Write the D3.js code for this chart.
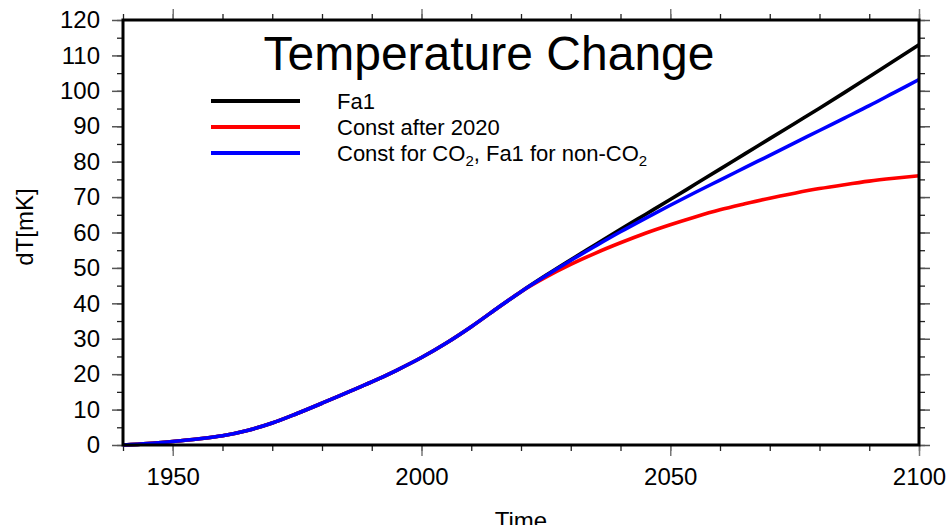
<!DOCTYPE html>
<html>
<head>
<meta charset="utf-8">
<script src="https://cdn.jsdelivr.net/npm/d3@7"></script>
<style>
  html, body { margin: 0; padding: 0; background: #fff; }
  svg { display: block; font-family: "Liberation Sans", Arial, sans-serif; }
</style>
</head>
<body>
<svg id="chart" width="951" height="525"></svg>
<script>
// Years sampled every 5 years
const years = d3.range(1940, 2101, 5);

// Temperature change in mK for each scenario
const fa1 = [0, 0.4, 1.0, 1.7, 2.6, 4.1, 6.2, 8.9, 11.8, 14.8, 17.8, 21.1, 24.7, 28.8, 33.4, 38.4, 43.3, 47.9,
             52.3, 56.6, 60.9, 65.1, 69.3, 73.6, 77.9, 82.2, 86.5, 90.8, 95.1, 99.5, 104.0, 108.5, 113.0];
const constAfter2020 = [0, 0.4, 1.0, 1.7, 2.6, 4.1, 6.2, 8.9, 11.8, 14.8, 17.8, 21.1, 24.7, 28.8, 33.4, 38.4, 43.3, 47.4,
             51.0, 54.2, 57.1, 59.8, 62.2, 64.4, 66.4, 68.1, 69.7, 71.1, 72.4, 73.5, 74.5, 75.3, 76.0];
const constCO2 = [0, 0.4, 1.0, 1.7, 2.6, 4.1, 6.2, 8.9, 11.8, 14.8, 17.8, 21.1, 24.7, 28.8, 33.4, 38.4, 43.3, 47.8,
             52.1, 56.2, 60.2, 64.0, 67.7, 71.3, 74.8, 78.3, 81.8, 85.3, 88.8, 92.3, 95.8, 99.5, 103.2];

const yTicksMajor = d3.range(0, 121, 10);
const yTicksMinor = d3.range(0, 121, 5);
const xTicksMajor = [1950, 2000, 2050, 2100];
const xTicksMinor = d3.range(1940, 2101, 10);

const svg = d3.select("#chart");
const plotLeft = 123, plotRight = 919, plotTop = 20, plotBottom = 445;

const x = d3.scaleLinear().domain([1940, 2100]).range([plotLeft, plotRight]);
const y = d3.scaleLinear().domain([0, 120]).range([plotBottom, plotTop]);

function styleAxis(g, color, width) {
  g.select(".domain").remove();
  g.selectAll(".tick line").attr("stroke", color).attr("stroke-width", width);
  g.selectAll(".tick text").attr("fill", "#000").style("font-size", "24px")
    .style("font-family", '"Liberation Sans", Arial, sans-serif');
}

// Minor ticks on all four sides
svg.append("g").attr("transform", `translate(${plotLeft},0)`)
  .call(d3.axisLeft(y).tickValues(yTicksMinor).tickSize(6).tickFormat(""))
  .call(g => styleAxis(g, "#222", 1.3));
svg.append("g").attr("transform", `translate(${plotRight},0)`)
  .call(d3.axisRight(y).tickValues(yTicksMinor).tickSize(6).tickFormat(""))
  .call(g => styleAxis(g, "#222", 1.3));
svg.append("g").attr("transform", `translate(0,${plotBottom})`)
  .call(d3.axisBottom(x).tickValues(xTicksMinor).tickSize(6).tickFormat(""))
  .call(g => styleAxis(g, "#222", 1.3));
svg.append("g").attr("transform", `translate(0,${plotTop})`)
  .call(d3.axisTop(x).tickValues(xTicksMinor).tickSize(6).tickFormat(""))
  .call(g => styleAxis(g, "#222", 1.3));

// Major ticks with labels
svg.append("g").attr("transform", `translate(${plotLeft},0)`)
  .call(d3.axisLeft(y).tickValues(yTicksMajor).tickSize(11).tickPadding(12).tickFormat(d3.format("d")))
  .call(g => styleAxis(g, "#555", 1.5));
svg.append("g").attr("transform", `translate(${plotRight},0)`)
  .call(d3.axisRight(y).tickValues(yTicksMajor).tickSize(11).tickFormat(""))
  .call(g => styleAxis(g, "#555", 1.5));
svg.append("g").attr("transform", `translate(0,${plotBottom})`)
  .call(d3.axisBottom(x).tickValues(xTicksMajor).tickSize(11).tickPadding(12).tickFormat(d3.format("d")))
  .call(g => styleAxis(g, "#777", 1.5));
svg.append("g").attr("transform", `translate(0,${plotTop})`)
  .call(d3.axisTop(x).tickValues(xTicksMajor).tickSize(11).tickFormat(""))
  .call(g => styleAxis(g, "#777", 1.5));

// Series lines
const line = d3.line().x((d, i) => x(years[i])).y(d => y(d)).curve(d3.curveMonotoneX);
const series = [
  { values: fa1, color: "#000000" },
  { values: constAfter2020, color: "#ff0000" },
  { values: constCO2, color: "#0000ff" }
];
svg.append("g").selectAll("path").data(series).join("path")
  .attr("d", d => line(d.values))
  .attr("fill", "none")
  .attr("stroke", d => d.color)
  .attr("stroke-width", 3.6)
  .attr("stroke-linejoin", "round");

// Plot frame
svg.append("rect")
  .attr("x", plotLeft).attr("y", plotTop)
  .attr("width", plotRight - plotLeft).attr("height", plotBottom - plotTop)
  .attr("fill", "none").attr("stroke", "#000").attr("stroke-width", 3);

// Title
svg.append("text")
  .attr("x", 489).attr("y", 70)
  .attr("text-anchor", "middle")
  .style("font-size", "48px")
  .text("Temperature Change");

// Legend
const legend = [
  { color: "#000000", parts: [["Fa1", false]] },
  { color: "#ff0000", parts: [["Const after 2020", false]] },
  { color: "#0000ff", parts: [["Const for CO", false], ["2", true], [", Fa1 for non-CO", false], ["2", true]] }
];
const lg = svg.append("g");
legend.forEach((item, i) => {
  const cy = 101 + i * 26;
  lg.append("line")
    .attr("x1", 211).attr("x2", 300).attr("y1", cy).attr("y2", cy)
    .attr("stroke", item.color).attr("stroke-width", 4);
  const t = lg.append("text").attr("x", 337).attr("y", cy + 7.5).style("font-size", "22px");
  item.parts.forEach(([s, sub]) => {
    if (sub) {
      t.append("tspan").attr("dy", 5).style("font-size", "15px").text(s);
    } else {
      const ts = t.append("tspan").text(s);
      if (t.selectAll("tspan").size() > 1) ts.attr("dy", -5);
    }
  });
});

// Axis titles
svg.append("text")
  .attr("transform", "translate(33,227) rotate(-90)")
  .attr("text-anchor", "middle")
  .style("font-size", "24px")
  .text("dT[mK]");
svg.append("text")
  .attr("x", 521).attr("y", 529)
  .attr("text-anchor", "middle")
  .style("font-size", "24px")
  .text("Time");
</script>
</body>
</html>
